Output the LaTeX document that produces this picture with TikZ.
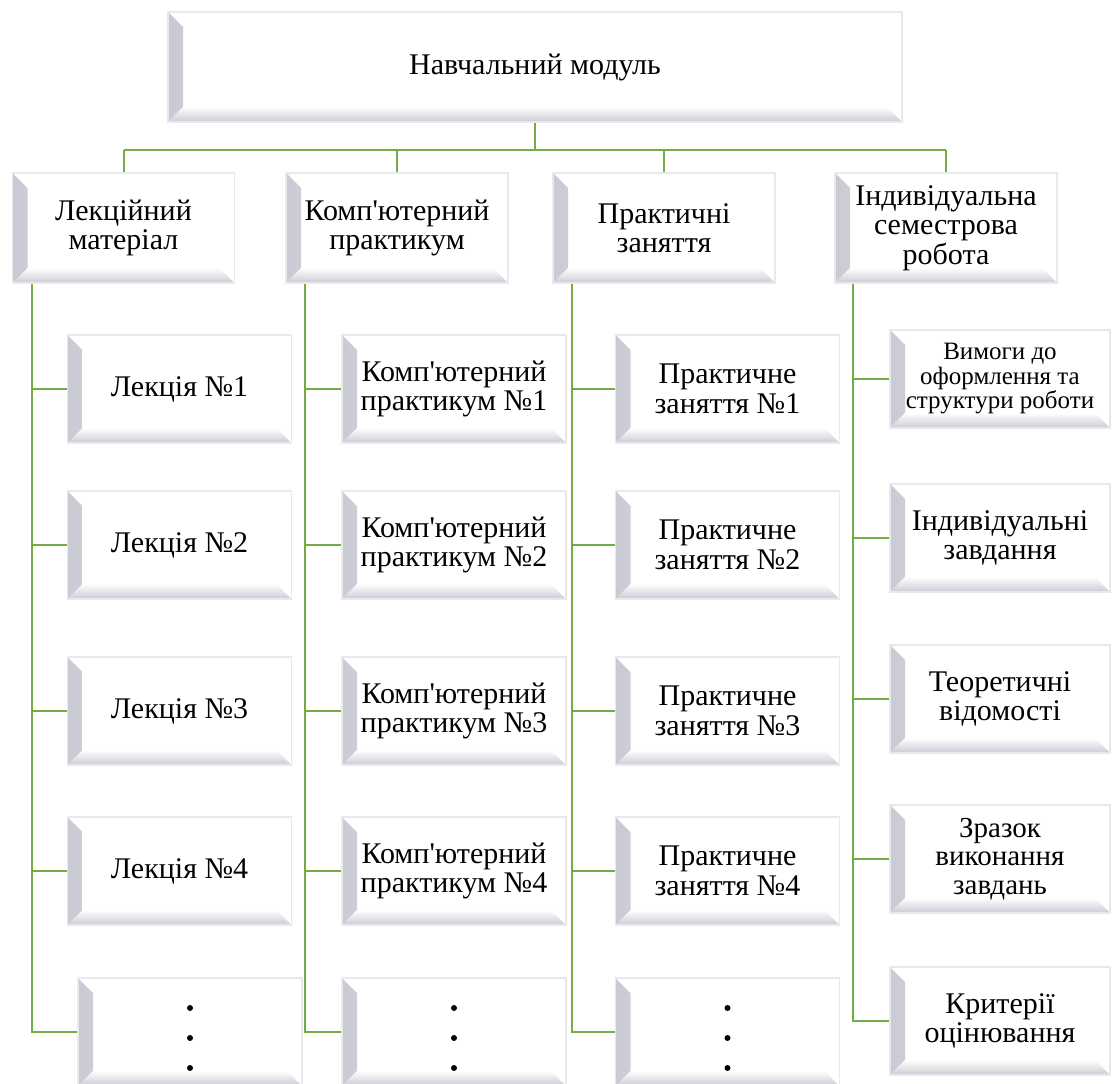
\documentclass[tikz,border=0pt]{standalone}
\usepackage{fontspec}
\setmainfont{Liberation Serif}
\usetikzlibrary{positioning, calc}

\definecolor{linkgreen}{RGB}{112,173,71}
\definecolor{bevgray}{RGB}{202,202,212}
\definecolor{rimgray}{RGB}{232,232,238}

\tikzset{
	bevel/.style={fill=white, draw=rimgray, line width=1.5pt,
		path picture={
			\shade[left color=bevgray, right color=white]
			(path picture bounding box.south west) -- (path picture bounding box.north west)
			-- ([shift={(15pt,-15pt)}]path picture bounding box.north west)
			-- ([shift={(15pt,15pt)}]path picture bounding box.south west) -- cycle;
			\shade[bottom color=bevgray, top color=white]
			(path picture bounding box.south west) -- ([shift={(15pt,15pt)}]path picture bounding box.south west)
			-- ([shift={(-15pt,15pt)}]path picture bounding box.south east)
			-- (path picture bounding box.south east) -- cycle;
		}},
	headbox/.style={bevel, minimum width=222pt, minimum height=110pt, inner sep=2pt,
		align=center, font=\fontsize{30}{29.5}\selectfont},
	itembox/.style={headbox, minimum width=224pt, minimum height=108pt},
	sidebox/.style={itembox, minimum width=220pt},
	link/.style={draw=linkgreen, line width=2pt}
}

\newcommand{\apos}{\textquotesingle}

\begin{document}
\begin{tikzpicture}[x=1pt, y=-1pt]
		
		\useasboundingbox (0,0) rectangle (1112,1084);
		
		% top level
		\node[headbox, minimum width=734pt] (mod) at (535,67) {Навчальний модуль};
		
		\node[headbox] (lec) at (123.5,228) {Лекційний\\матеріал};
		\node[headbox] (comp) at (397,228) {Комп\apos ютерний\\практикум};
		\node[headbox] (prac) at (664,228) {Практичні\\заняття};
		\node[headbox] (ind) at (946,228) {Індивідуальна\\семестрова\\робота};
		
		\coordinate (bus) at (0,150);
		\draw[link] (mod.south) -- (mod.south |- bus);
		\draw[link] (lec.north |- bus) -- (ind.north |- bus);
		\foreach \n in {lec,comp,prac,ind}
			\draw[link] (\n.north |- bus) -- (\n.north);
		
		% rows of the first three columns
		\foreach \y [count=\i] in {389,545,711,871} {
			\node[itembox] (lec\i) at (179.5,\y) {Лекція №\i};
			\node[itembox] (comp\i) at (454,\y) {Комп\apos ютерний\\практикум №\i};
			\node[itembox] (prac\i) at (727.5,\y) {Практичне\\заняття №\i};
		}
		\node[itembox] (lec5) at (190,1032) {};
		\node[itembox] (comp5) at (454,1032) {};
		\node[itembox] (prac5) at (727.5,1032) {};
		\foreach \n in {lec5,comp5,prac5}
			\foreach \d in {-24,6,36}
				\fill ($(\n.center)+(0,\d)$) circle[radius=3pt];
		
		% semester work column
		\node[sidebox, minimum height=98pt, font=\fontsize{25}{24.5}\selectfont]
			(ind1) at (1000,379) {Вимоги до\\оформлення та\\структури роботи};
		\node[sidebox] (ind2) at (1000,538) {Індивідуальні\\завдання};
		\node[sidebox] (ind3) at (1000,699) {Теоретичні\\відомості};
		\node[sidebox, font=\fontsize{29}{28.5}\selectfont] (ind4) at (1000,859) {Зразок\\виконання\\завдань};
		\node[sidebox] (ind5) at (1000,1021) {Критерії\\оцінювання};
		
		% trunks
		\coordinate (t1) at (32,0);
		\coordinate (t2) at (305,0);
		\coordinate (t3) at (572,0);
		\coordinate (t4) at (853,0);
		\foreach \n/\t in {lec/t1,comp/t2,prac/t3,ind/t4} {
			\draw[link] (\t |- \n.south) |- (\n5.west);
			\foreach \i in {1,...,4}
				\draw[link] (\t |- \n\i) -- (\n\i.west);
		}
		
\end{tikzpicture}
\end{document}
